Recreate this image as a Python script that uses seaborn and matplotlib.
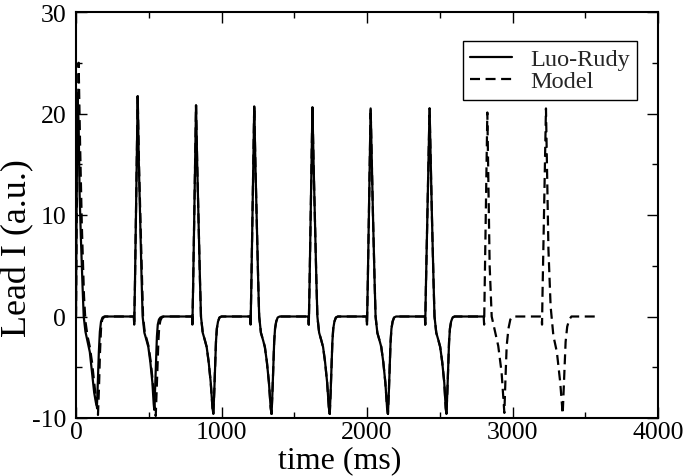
import numpy as np
import pandas as pd
import matplotlib
matplotlib.use("Agg")
import matplotlib.pyplot as plt
from matplotlib.ticker import MultipleLocator
import seaborn as sns

# ---------------- data ----------------
# Luo-Rudy lead I trace (time in ms, value in a.u.)
lr_t = [0, 3, 10, 18, 25, 33, 45, 53, 65, 80, 95, 110, 125, 137, 144, 150, 157, 164, 172, 182, 195,
        398, 400, 405, 424, 432, 440, 451, 458, 470, 484, 497, 511, 525, 534, 538, 544, 550, 556, 562, 570, 580, 595,
        798, 800, 805, 825, 833, 841, 852, 859, 871, 885, 898, 912, 926, 938, 944, 950, 956, 962, 968, 976, 986, 1000,
        1198, 1200, 1205, 1225, 1233, 1241, 1252, 1259, 1271, 1285, 1298, 1312, 1326, 1338, 1344, 1350, 1356, 1362, 1368, 1376, 1386, 1400,
        1598, 1600, 1605, 1625, 1633, 1641, 1652, 1659, 1671, 1685, 1698, 1712, 1726, 1738, 1744, 1750, 1756, 1762, 1768, 1776, 1786, 1800,
        1998, 2000, 2005, 2025, 2033, 2041, 2052, 2059, 2071, 2085, 2098, 2112, 2126, 2138, 2144, 2150, 2156, 2162, 2168, 2176, 2186, 2200,
        2398, 2400, 2405, 2430, 2438, 2446, 2457, 2464, 2476, 2490, 2503, 2517, 2531, 2541, 2546, 2552, 2558, 2564, 2570, 2578, 2588, 2602,
        2800]
lr_v = [0, 8, 22, 19, 12, 8, 3, 0, -1.5, -2.5, -3.5, -5.5, -7.5, -8.5, -8.8, -6.5, -3.5, -1.5, -0.5, -0.1, 0,
        0, -0.8, 3, 21.7, 15, 10, 3.6, 0, -1.6, -2.3, -3.0, -4.5, -6.5, -8.6, -9.2, -7.0, -4.5, -2.0, -0.8, -0.3, -0.1, 0,
        0, -0.8, 3, 20.8, 15, 10, 3.6, 0, -1.6, -2.3, -3.0, -4.5, -6.5, -9.0, -9.6, -7.5, -5.0, -2.5, -1.2, -0.5, -0.1, 0,
        0, -0.8, 3, 20.7, 15, 10, 3.6, 0, -1.6, -2.3, -3.0, -4.5, -6.5, -9.0, -9.6, -7.5, -5.0, -2.5, -1.2, -0.5, -0.1, 0,
        0, -0.8, 3, 20.6, 15, 10, 3.6, 0, -1.6, -2.3, -3.0, -4.5, -6.5, -9.0, -9.6, -7.5, -5.0, -2.5, -1.2, -0.5, -0.1, 0,
        0, -0.8, 3, 20.5, 15, 10, 3.6, 0, -1.6, -2.3, -3.0, -4.5, -6.5, -9.0, -9.6, -7.5, -5.0, -2.5, -1.2, -0.5, -0.1, 0,
        0, -0.8, 3, 20.5, 15, 10, 3.6, 0, -1.6, -2.3, -3.0, -4.5, -6.5, -9.0, -9.6, -7.5, -5.0, -2.5, -1.2, -0.5, -0.1, 0,
        0]

# Model lead I trace
md_t = [0, 5, 18, 28, 40, 55, 65, 80, 95, 110, 125, 140, 151, 158, 165, 172, 180, 190, 200,
        398, 400, 405, 424, 433, 442, 454, 461, 473, 487, 500, 514, 528, 542, 548, 554, 560, 566, 572, 580, 590, 605,
        798, 800, 805, 825, 833, 841, 852, 859, 871, 885, 898, 912, 926, 938, 944, 950, 956, 962, 968, 976, 986, 1000,
        1198, 1200, 1205, 1225, 1233, 1241, 1252, 1259, 1271, 1285, 1298, 1312, 1326, 1338, 1344, 1350, 1356, 1362, 1368, 1376, 1386, 1400,
        1598, 1600, 1605, 1625, 1633, 1641, 1652, 1659, 1671, 1685, 1698, 1712, 1726, 1738, 1744, 1750, 1756, 1762, 1768, 1776, 1786, 1800,
        1998, 2000, 2005, 2025, 2033, 2041, 2052, 2059, 2071, 2085, 2098, 2112, 2126, 2138, 2144, 2150, 2156, 2162, 2168, 2176, 2186, 2200,
        2398, 2400, 2405, 2430, 2438, 2446, 2457, 2464, 2476, 2490, 2503, 2517, 2531, 2541, 2546, 2552, 2558, 2564, 2570, 2578, 2588, 2602,
        2802, 2805, 2808, 2827, 2843, 2857, 2880, 2902, 2925, 2944, 2952, 2960, 2972, 2985, 3000,
        3200, 3203, 3206, 3230, 3247, 3262, 3281, 3305, 3328, 3345, 3355, 3365, 3376, 3390, 3405,
        3600]
md_v = [0, 10, 25, 17, 9, 2, -0.5, -2, -3, -4.5, -6.5, -8.5, -9.7, -7, -3.5, -1.2, -0.3, -0.1, 0,
        0, -0.8, 3, 21.7, 15, 10, 3.6, 0, -1.6, -2.3, -3.0, -4.5, -6.5, -9.2, -9.8, -7.5, -5, -2.5, -1.0, -0.4, -0.1, 0,
        0, -0.8, 3, 20.8, 15, 10, 3.6, 0, -1.6, -2.3, -3.0, -4.5, -6.5, -9.0, -9.6, -7.5, -5.0, -2.5, -1.2, -0.5, -0.1, 0,
        0, -0.8, 3, 20.7, 15, 10, 3.6, 0, -1.6, -2.3, -3.0, -4.5, -6.5, -9.0, -9.6, -7.5, -5.0, -2.5, -1.2, -0.5, -0.1, 0,
        0, -0.8, 3, 20.6, 15, 10, 3.6, 0, -1.6, -2.3, -3.0, -4.5, -6.5, -9.0, -9.6, -7.5, -5.0, -2.5, -1.2, -0.5, -0.1, 0,
        0, -0.8, 3, 20.5, 15, 10, 3.6, 0, -1.6, -2.3, -3.0, -4.5, -6.5, -9.0, -9.6, -7.5, -5.0, -2.5, -1.2, -0.5, -0.1, 0,
        0, -0.8, 3, 20.5, 15, 10, 3.6, 0, -1.6, -2.3, -3.0, -4.5, -6.5, -9.0, -9.6, -7.5, -5.0, -2.5, -1.2, -0.5, -0.1, 0,
        0, -0.8, 2, 20.1, 5, 0, -1.5, -2.9, -5.5, -9.5, -6, -2.9, -1.2, -0.3, 0,
        0, -0.8, 2, 20.5, 6.6, 1, -1.9, -3.5, -6.5, -9.6, -6, -2.5, -1, -0.3, 0,
        0]

series_names = ["Luo-Rudy", "Model"]
x_label = "time (ms)"
y_label = "Lead I (a.u.)"

# ---------------- plotting ----------------
sns.set_theme(style="ticks")
plt.rcParams["font.family"] = ["Liberation Serif", "DejaVu Serif"]
plt.rcParams["axes.unicode_minus"] = False

fig = plt.figure(figsize=(6.85, 4.77), dpi=100)
ax = fig.add_axes([76 / 685, 1 - 419 / 477, (658 - 76) / 685, (419 - 13) / 477])

lr_df = pd.DataFrame({"t": lr_t, "v": lr_v})
md_df = pd.DataFrame({"t": md_t, "v": md_v})

sns.lineplot(data=md_df, x="t", y="v", ax=ax, color="black", lw=1.6,
             estimator=None, sort=False, label=series_names[1])
sns.lineplot(data=lr_df, x="t", y="v", ax=ax, color="black", lw=1.6,
             estimator=None, sort=False, label=series_names[0])
lines = ax.get_lines()
lines[0].set_linestyle((0, (4.5, 2.5)))
lines[0].set_zorder(2)
lines[1].set_zorder(3)

ax.set_xlim(0, 4000)
ax.set_ylim(-10, 30)
ax.xaxis.set_major_locator(MultipleLocator(1000))
ax.xaxis.set_minor_locator(MultipleLocator(500))
ax.yaxis.set_major_locator(MultipleLocator(10))
ax.yaxis.set_minor_locator(MultipleLocator(5))
ax.tick_params(which="both", direction="in", top=True, right=True, colors="black",
               labelsize=18.5, width=1.0)
ax.tick_params(which="major", length=8)
ax.tick_params(which="minor", length=4)
ax.tick_params(axis="x", which="major", pad=2)
ax.tick_params(axis="y", which="major", pad=7)
for sp in ax.spines.values():
    sp.set_color("black")
    sp.set_linewidth(1.5)

ax.set_xlabel(x_label, fontsize=23, color="black")
ax.set_ylabel(y_label, fontsize=26, color="black")
ax.xaxis.set_label_coords((340 - 76) / 582, (419 - 446) / 406)
ax.yaxis.set_label_coords((34 - 76) / 582, (419 - 248) / 406)

handles, labels = ax.get_legend_handles_labels()
order = [labels.index(n) for n in series_names]
leg = ax.legend([handles[i] for i in order], [labels[i] for i in order],
                loc="upper right", bbox_to_anchor=((637 - 76) / 582, (419 - 42) / 406),
                fontsize=17.5, frameon=True, fancybox=False, edgecolor="black",
                framealpha=1, handlelength=1.7, handletextpad=0.75, borderpad=0.3,
                labelspacing=0.0, borderaxespad=0)
leg.get_frame().set_linewidth(1.0)

fig.savefig("out.png", dpi=100)
